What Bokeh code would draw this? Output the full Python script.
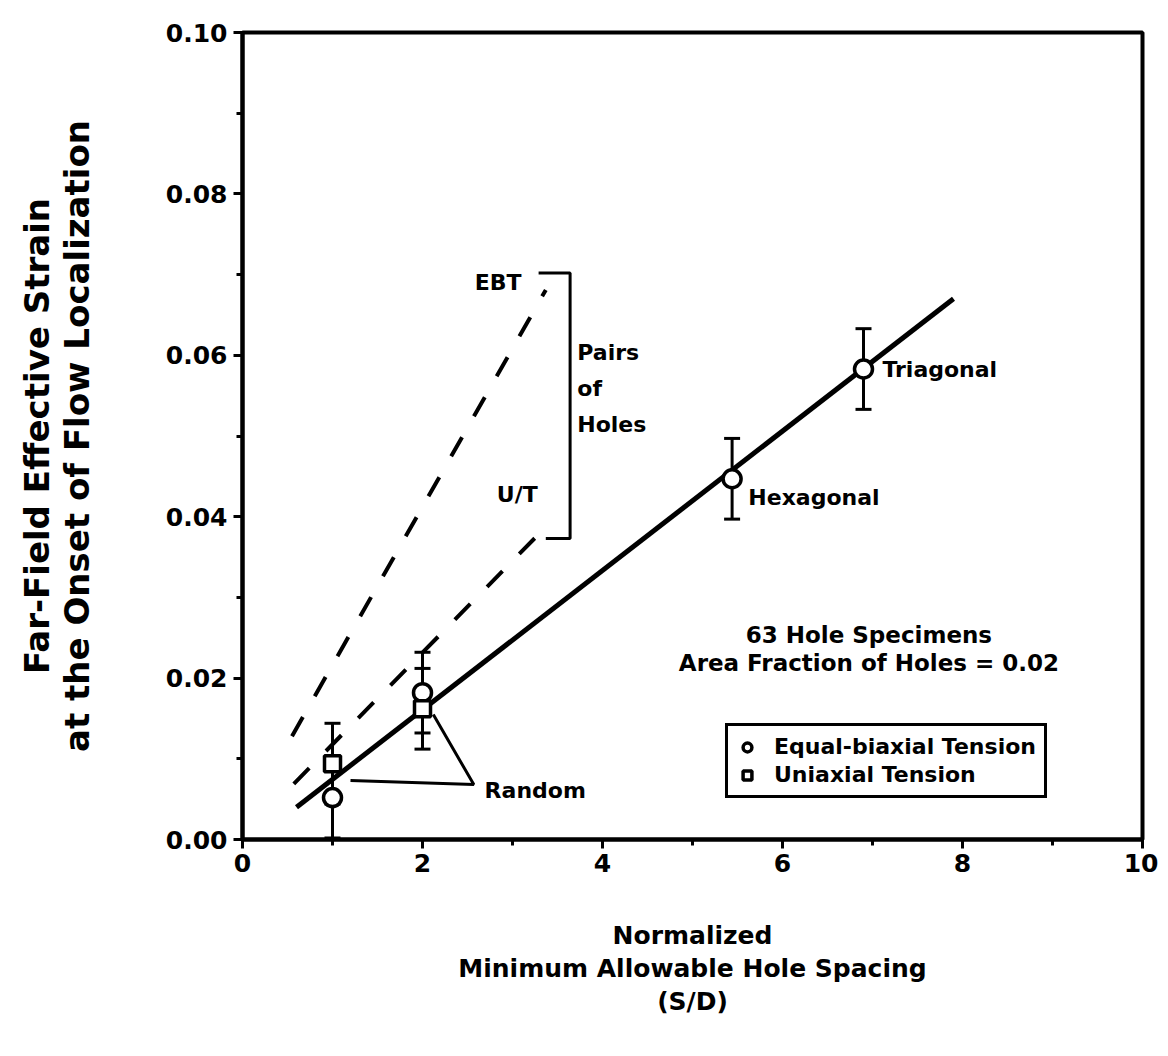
from bokeh.plotting import figure
from bokeh.models import (Range1d, FixedTicker, PrintfTickFormatter, Whisker, TeeHead,
                          ColumnDataSource, Label, Legend, LegendItem)
from bokeh.embed import file_html
from bokeh.resources import INLINE

# ---------------- data ----------------
ebt_x = [1.0, 2.0, 5.44, 6.9]
ebt_y = [0.0052, 0.0182, 0.0447, 0.0583]
ebt_err = [0.005, 0.005, 0.005, 0.005]

ut_x = [1.0, 2.0]
ut_y = [0.0094, 0.0162]
ut_err = [0.005, 0.005]

fit_x = [0.6, 7.9]
fit_y = [0.004, 0.067]

pair_ebt_x = [0.55, 3.37]
pair_ebt_y = [0.0128, 0.0681]
pair_ut_x = [0.57, 3.42]
pair_ut_y = [0.0069, 0.0393]

bracket_x = [3.29, 3.64, 3.64, 3.37]
bracket_y = [0.0702, 0.0702, 0.0373, 0.0373]

random_x = [1.2, 2.57, 2.12]
random_y = [0.0073, 0.0068, 0.0155]

x_ticks = [0, 2, 4, 6, 8, 10]
x_minor = [1, 3, 5, 7, 9]
y_ticks = [0.0, 0.02, 0.04, 0.06, 0.08, 0.10]
y_minor = [0.01, 0.03, 0.05, 0.07, 0.09]

FONT = "DejaVu Sans"

p = figure(width=1158, height=1048, output_backend="svg", toolbar_location=None,
           x_range=Range1d(0, 10), y_range=Range1d(0, 0.10),
           min_border_left=242, min_border_right=16, min_border_top=32, min_border_bottom=209)
p.grid.visible = False
p.outline_line_color = "black"
p.outline_line_width = 4
p.outline_line_alpha = 1.0
p.background_fill_color = "white"
p.border_fill_color = "white"

for ax in (p.xaxis[0], p.yaxis[0]):
    ax.axis_line_width = 4
    ax.axis_line_color = "black"
    ax.major_tick_line_width = 3
    ax.minor_tick_line_width = 3
    ax.major_tick_out = 9
    ax.major_tick_in = 0
    ax.minor_tick_out = 6
    ax.minor_tick_in = 0
    ax.major_label_text_font = FONT
    ax.major_label_text_font_style = "bold"
    ax.major_label_text_font_size = "25px"
    ax.major_label_text_color = "black"
    ax.axis_label_text_font = FONT
    ax.axis_label_text_font_style = "bold"
    ax.axis_label_text_color = "black"

p.xaxis[0].ticker = FixedTicker(ticks=x_ticks, minor_ticks=x_minor)
p.yaxis[0].ticker = FixedTicker(ticks=y_ticks, minor_ticks=y_minor)
p.yaxis[0].formatter = PrintfTickFormatter(format="%.2f")
p.xaxis[0].major_label_standoff = 5
p.yaxis[0].major_label_standoff = 6

p.xaxis[0].axis_label = "Normalized\nMinimum Allowable Hole Spacing\n(S/D)"
p.xaxis[0].axis_label_text_font_size = "25px"
p.xaxis[0].axis_label_text_line_height = 1.15
p.xaxis[0].axis_label_standoff = 46
p.yaxis[0].axis_label = "Far-Field Effective Strain\nat the Onset of Flow Localization"
p.yaxis[0].axis_label_text_font_size = "34px"
p.yaxis[0].axis_label_text_line_height = 1.0
p.yaxis[0].axis_label_standoff = 66

# lines
p.line(fit_x, fit_y, line_color="black", line_width=5)
p.line(pair_ebt_x, pair_ebt_y, line_color="black", line_width=4, line_dash="22 24")
p.line(pair_ut_x, pair_ut_y, line_color="black", line_width=4, line_dash="22 24")
p.line(bracket_x, bracket_y, line_color="black", line_width=3)
p.line(random_x, random_y, line_color="black", line_width=3)

# error bars
ebt_src = ColumnDataSource(dict(x=ebt_x, y=ebt_y,
                                upper=[v + e for v, e in zip(ebt_y, ebt_err)],
                                lower=[max(v - e, 0) for v, e in zip(ebt_y, ebt_err)]))
ut_src = ColumnDataSource(dict(x=ut_x, y=ut_y,
                               upper=[v + e for v, e in zip(ut_y, ut_err)],
                               lower=[v - e for v, e in zip(ut_y, ut_err)]))
for src in (ebt_src, ut_src):
    w = Whisker(source=src, base="x", upper="upper", lower="lower",
                line_width=3, line_color="black",
                upper_head=TeeHead(size=16, line_width=3, line_color="black"),
                lower_head=TeeHead(size=16, line_width=3, line_color="black"))
    p.add_layout(w)

r_circ = p.scatter("x", "y", source=ebt_src, marker="circle", size=18,
                   fill_color="white", line_color="black", line_width=3.5)
r_sq = p.scatter("x", "y", source=ut_src, marker="square", size=16,
                 fill_color="white", line_color="black", line_width=3.5)

def lab(x, y, t, size="22px", align="left"):
    p.add_layout(Label(x=x, y=y, text=t, text_font=FONT, text_font_style="bold",
                       text_font_size=size, text_color="black",
                       text_align=align, text_baseline="middle"))

lab(7.11, 0.0583, "Triagonal")
lab(5.62, 0.0424, "Hexagonal")
lab(2.69, 0.0061, "Random")
lab(3.10, 0.0690, "EBT", align="right")
lab(3.28, 0.0427, "U/T", align="right")
lab(3.72, 0.0603, "Pairs")
lab(3.72, 0.0559, "of")
lab(3.72, 0.0514, "Holes")
lab(6.96, 0.0254, "63 Hole Specimens", size="23px", align="center")
lab(6.96, 0.0219, "Area Fraction of Holes = 0.02", size="23px", align="center")

legend = Legend(items=[LegendItem(label="Equal-biaxial Tension", renderers=[r_circ]),
                       LegendItem(label="Uniaxial Tension", renderers=[r_sq])],
                location=(483, 41))
legend.border_line_color = "black"
legend.border_line_alpha = 1.0
legend.border_line_width = 3
legend.label_text_font = FONT
legend.label_text_font_style = "bold"
legend.label_text_font_size = "22px"
legend.label_text_color = "black"
legend.label_standoff = 16
legend.glyph_width = 22
legend.glyph_height = 24
legend.padding = 8
legend.spacing = 3
legend.margin = 0
legend.background_fill_color = "white"
legend.background_fill_alpha = 1.0
p.add_layout(legend)

open("out.html", "w").write(file_html(p, INLINE))
